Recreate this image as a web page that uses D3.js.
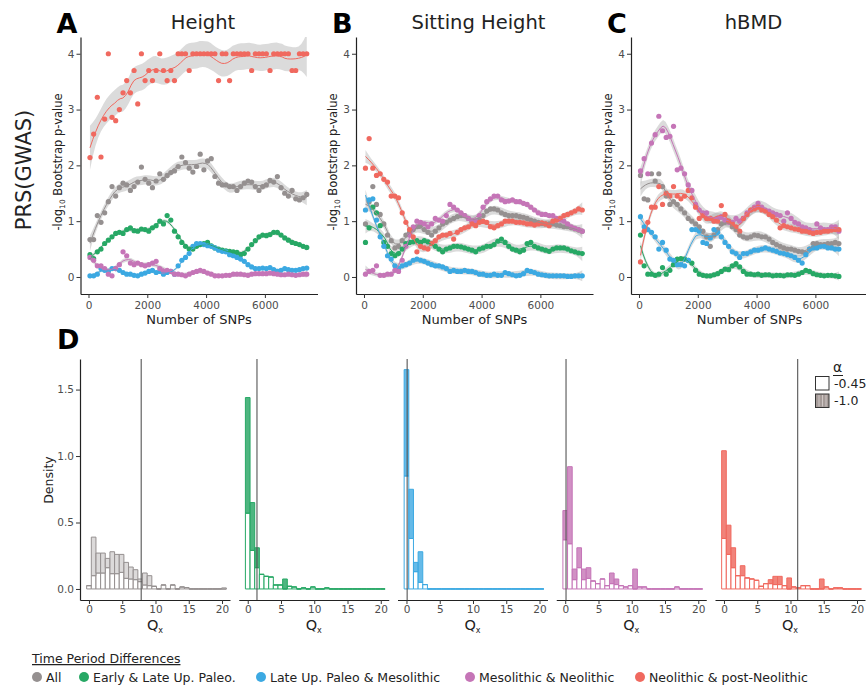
<!DOCTYPE html>
<html>
<head>
<meta charset="utf-8">
<script src="https://cdn.jsdelivr.net/npm/d3@7"></script>
<style>
  body { margin: 0; background: #fff; }
  svg { font-family: "DejaVu Sans", sans-serif; }
</style>
</head>
<body>
<svg width="866" height="690"></svg>
<script>
// ---- data ----
const groups = ["All", "Early & Late Up. Paleo.", "Late Up. Paleo & Mesolithic", "Mesolithic & Neolithic", "Neolithic & post-Neolithic"]
const colors = ["#959090", "#27a865", "#3ca9e2", "#c575b7", "#f0695f"]
const histFills = ["#d6d4d3", "#2fa86a", "#4aaee4", "#c97cba", "#ef6d63"]

const snps = [50, 175, 300, 425, 550, 675, 800, 925, 1050, 1175,
    1300, 1425, 1550, 1675, 1800, 1925, 2050, 2175, 2300, 2425,
    2550, 2675, 2800, 2925, 3050, 3175, 3300, 3425, 3550, 3675,
    3800, 3925, 4050, 4175, 4300, 4425, 4550, 4675, 4800, 4925,
    5050, 5175, 5300, 5425, 5550, 5675, 5800, 5925, 6050, 6175,
    6300, 6425, 6550, 6675, 6800, 6925, 7050, 7175, 7300, 7425]
const snpsBMD = snps.slice(0, 55)

// A - Height
const heightAll = [0.67, 0.67, 1.1, 0.98, 1.15, 1.35, 1.62, 1.45, 1.6, 1.68,
    1.65, 1.55, 1.62, 1.7, 1.97, 1.75, 1.68, 1.6, 1.72, 1.85,
    1.75, 1.82, 1.87, 1.9, 1.98, 2.15, 2.05, 1.95, 1.88, 1.98,
    2.2, 1.92, 2.08, 2.12, 1.8, 1.68, 1.65, 1.65, 1.62, 1.62,
    1.55, 1.62, 1.68, 1.72, 1.7, 1.62, 1.55, 1.62, 1.65, 1.73,
    1.7, 1.8, 1.6, 1.5, 1.45, 1.55, 1.4, 1.38, 1.42, 1.48]
const heightEarly = [0.4, 0.33, 0.45, 0.5, 0.6, 0.66, 0.72, 0.78, 0.8, 0.78,
    0.85, 0.88, 0.83, 0.82, 0.86, 0.85, 0.82, 0.88, 0.92, 1.0,
    0.95, 1.1, 1.02, 0.82, 0.72, 0.62, 0.55, 0.5, 0.5, 0.55,
    0.58, 0.6, 0.62, 0.56, 0.52, 0.5, 0.48, 0.47, 0.46, 0.45,
    0.44, 0.4, 0.42, 0.5, 0.58, 0.65, 0.72, 0.75, 0.74, 0.76,
    0.8, 0.8, 0.75, 0.7, 0.66, 0.62, 0.6, 0.58, 0.55, 0.53]
const heightLate = [0.02, 0.02, 0.05, 0.15, 0.12, 0.1, 0.15, 0.15, 0.12, 0.08,
    0.05, 0.05, 0.03, 0.02, 0.05, 0.07, 0.1, 0.12, 0.08, 0.1,
    0.05, 0.08, 0.1, 0.05, 0.2, 0.3, 0.35, 0.42, 0.55, 0.6,
    0.6, 0.58, 0.56, 0.55, 0.52, 0.48, 0.46, 0.45, 0.4, 0.38,
    0.35, 0.32, 0.28, 0.22, 0.18, 0.15, 0.15, 0.16, 0.15, 0.17,
    0.13, 0.1, 0.12, 0.15, 0.13, 0.12, 0.12, 0.13, 0.15, 0.16]
const heightMeso = [0.35, 0.3, 0.2, 0.2, 0.15, 0.05, 0.02, 0.15, 0.22, 0.45,
    0.38, 0.25, 0.22, 0.25, 0.22, 0.2, 0.22, 0.25, 0.28, 0.15,
    0.1, 0.12, 0.1, 0.05, 0.05, 0.04, 0.02, 0.05, 0.08, 0.1,
    0.12, 0.1, 0.07, 0.05, 0.02, 0.02, 0.02, 0.03, 0.03, 0.05,
    0.05, 0.05, 0.04, 0.03, 0.05, 0.06, 0.06, 0.06, 0.06, 0.07,
    0.06, 0.05, 0.04, 0.04, 0.05, 0.04, 0.03, 0.04, 0.05, 0.05]
const heightNeo = [2.14, 2.56, 3.22, 2.15, 2.83, 4, 2.86, 2.8, 3, 3.3,
    3.52, 3.3, 3.7, 3.1, 4, 3.52, 3.7, 3.52, 3.7, 4,
    3.7, 3.52, 3.7, 3.52, 4, 4, 4, 3.7, 4, 4,
    4, 4, 4, 4, 4, 3.52, 4, 4, 3.52, 4,
    4, 4, 4, 4, 3.7, 4, 4, 4, 4, 3.7,
    4, 4, 4, 4, 4, 3.7, 3.7, 4, 4, 4]

// B - Sitting Height
const sitAll = [0.95, 1.35, 1.62, 1.3, 1.12, 0.95, 0.75, 0.65, 0.52, 0.55,
    0.65, 0.75, 0.8, 0.85, 0.9, 0.92, 0.85, 0.8, 0.75, 0.82,
    0.88, 0.95, 0.98, 1.02, 1.05, 1.08, 1.1, 1.1, 1.05, 1.0,
    1.0, 1.03, 1.1, 1.18, 1.22, 1.22, 1.2, 1.15, 1.12, 1.1,
    1.1, 1.1, 1.08, 1.07, 1.05, 1.02, 1.0, 0.98, 0.96, 0.95,
    0.95, 0.95, 0.93, 0.92, 0.9, 0.9, 0.88, 0.86, 0.84, 0.82]
const sitEarly = [0.62, 0.88, 1.25, 1.15, 0.92, 0.62, 0.55, 0.42, 0.38, 0.42,
    0.5, 0.6, 0.62, 0.63, 0.65, 0.62, 0.65, 0.63, 0.6, 0.55,
    0.5, 0.45, 0.5, 0.52, 0.55, 0.55, 0.54, 0.52, 0.5, 0.48,
    0.45, 0.5, 0.52, 0.55, 0.55, 0.58, 0.64, 0.68, 0.62, 0.55,
    0.5, 0.48, 0.45, 0.48, 0.6, 0.62, 0.55, 0.52, 0.5, 0.48,
    0.46, 0.5, 0.52, 0.52, 0.52, 0.5, 0.47, 0.45, 0.43, 0.42]
const sitLate = [1.2, 1.38, 1.4, 1.02, 0.72, 0.55, 0.38, 0.32, 0.2, 0.15,
    0.2, 0.22, 0.25, 0.3, 0.32, 0.3, 0.28, 0.25, 0.22, 0.2,
    0.2, 0.18, 0.15, 0.1, 0.12, 0.1, 0.1, 0.12, 0.1, 0.1,
    0.08, 0.05, 0.05, 0.03, 0.03, 0.05, 0.03, 0.03, 0.08, 0.06,
    0.04, 0.02, 0.03, 0.06, 0.12, 0.1, 0.08, 0.05, 0.04, 0.03,
    0.02, 0.02, 0.02, 0.02, 0.02, 0.01, 0.01, 0.02, 0.02, 0.02]
const sitMeso = [0.05, 0.1, 0.12, 0.2, 0.03, 0.03, 0.05, 0.05, 0.12, 0.1,
    0.3, 0.55, 0.75, 0.9, 1.0, 0.98, 0.95, 0.9, 0.95, 1.05,
    1.02, 1.0, 1.1, 1.3, 1.25, 1.2, 1.15, 1.1, 1.05, 1.0,
    1.0, 1.1, 1.25, 1.35, 1.4, 1.45, 1.45, 1.38, 1.35, 1.36,
    1.38, 1.35, 1.35, 1.32, 1.3, 1.25, 1.2, 1.15, 1.12, 1.12,
    1.1, 1.1, 1.05, 1.02, 1.0, 0.95, 0.9, 0.87, 0.85, 0.82]
const sitNeo = [1.95, 2.48, 1.95, 1.82, 1.85, 1.75, 1.7, 1.45, 1.45, 1.42,
    1.15, 0.98, 0.85, 0.72, 0.45, 0.55, 0.52, 0.5, 0.6, 0.65,
    0.72, 0.75, 0.75, 0.78, 0.68, 0.8, 0.85, 0.88, 0.9, 0.95,
    0.92, 0.98, 1.0, 0.98, 0.9, 0.88, 0.92, 0.95, 1.0, 1.0,
    1.0, 0.98, 0.98, 0.97, 0.95, 0.95, 0.93, 0.95, 0.97, 0.95,
    0.92, 1.0, 1.02, 1.05, 1.1, 1.12, 1.15, 1.18, 1.22, 1.2]

// C - hBMD
const bmdAll = [1.82, 1.4, 1.38, 1.85, 1.72, 1.85, 1.62, 1.45, 1.3, 1.35,
    1.3, 1.22, 1.15, 1.05, 1.0, 0.95, 0.9, 0.82, 0.72, 0.55,
    0.75, 0.85, 0.95, 0.98, 1.0, 0.9, 0.85, 0.75, 0.72, 0.7,
    0.72, 0.75, 0.74, 0.72, 0.72, 0.68, 0.62, 0.58, 0.55, 0.52,
    0.5, 0.5, 0.48, 0.46, 0.45, 0.43, 0.5, 0.6, 0.6, 0.58,
    0.58, 0.6, 0.6, 0.62, 0.6]
const bmdEarly = [0.75, 0.2, 0.05, 0.05, 0.03, 0.05, 0.17, 0.05, 0.12, 0.22,
    0.32, 0.33, 0.32, 0.3, 0.25, 0.12, 0.05, 0.03, 0.02, 0.02,
    0.04, 0.06, 0.1, 0.14, 0.13, 0.2, 0.24, 0.18, 0.1, 0.05,
    0.05, 0.04, 0.05, 0.03, 0.04, 0.04, 0.02, 0.03, 0.03, 0.02,
    0.04, 0.04, 0.03, 0.05, 0.08, 0.12, 0.1, 0.06, 0.04, 0.03,
    0.02, 0.03, 0.03, 0.02, 0.01]
const bmdLate = [1.08, 0.9, 0.85, 0.8, 0.72, 0.5, 0.62, 0.48, 0.32, 0.3,
    0.22, 0.22, 0.2, 0.3, 0.85, 0.85, 0.82, 0.62, 0.6, 0.7,
    0.85, 0.8, 0.72, 0.62, 0.55, 0.45, 0.42, 0.35, 0.42, 0.42,
    0.45, 0.48, 0.48, 0.5, 0.52, 0.5, 0.48, 0.46, 0.43, 0.42,
    0.4, 0.38, 0.35, 0.3, 0.25, 0.4, 0.5, 0.52, 0.52, 0.55,
    0.55, 0.52, 0.52, 0.5, 0.5]
const bmdMeso = [1.9, 2.12, 1.85, 2.4, 2.55, 2.88, 2.62, 2.5, 2.52, 2.7,
    1.92, 1.95, 1.85, 1.65, 1.55, 1.3, 1.2, 1.15, 1.15, 1.05,
    1.02, 1.05, 1.08, 1.02, 0.98, 0.98, 1.05, 1.0, 1.05, 1.15,
    1.2, 1.25, 1.32, 1.25, 1.2, 1.18, 1.15, 1.12, 1.1, 1.0,
    1.15, 1.05, 0.98, 0.95, 0.9, 0.88, 0.85, 0.8, 0.95, 0.88,
    0.85, 0.85, 0.9, 0.9, 0.82]
const bmdNeo = [0.27, 0.82, 0.98, 1.25, 1.25, 1.62, 1.3, 1.5, 1.45, 1.62,
    1.45, 1.4, 1.45, 1.55, 1.42, 1.25, 1.05, 1.1, 1.05, 1.05,
    1.0, 1.0, 1.28, 1.12, 1.0, 0.95, 0.9, 0.82, 1.05, 1.12,
    1.2, 1.22, 1.25, 1.2, 1.18, 1.12, 1.08, 1.02, 0.88, 0.92,
    0.9, 0.88, 0.86, 0.85, 0.82, 0.82, 0.8, 0.78, 0.8, 0.8,
    0.82, 0.82, 0.84, 0.85, 0.85]

// D - Qx density histograms (30 bins, width 0.7, first bin starts at -0.35)
const binStart = -0.35
const binWidth = 0.7
const qxLow = [ // alpha = -0.45
    [0.025, 0.1, 0.12, 0.12, 0.16, 0.115, 0.115, 0.125, 0.08, 0.075, 0.07, 0.055, 0.03, 0.025, 0.02, 0, 0.03, 0, 0.03, 0, 0.015, 0.01, 0, 0, 0, 0, 0, 0, 0, 0],
    [0.57, 0.29, 0.16, 0.11, 0.095, 0.09, 0.03, 0.03, 0, 0.02, 0.015, 0, 0.008, 0, 0.015, 0, 0, 0.008, 0, 0, 0, 0, 0, 0, 0, 0, 0, 0, 0, 0],
    [0.85, 0.38, 0.13, 0.05, 0.033, 0, 0, 0, 0, 0, 0, 0, 0, 0, 0, 0, 0, 0, 0, 0, 0, 0, 0, 0, 0, 0, 0, 0, 0, 0],
    [0.37, 0.34, 0.07, 0.16, 0.07, 0.08, 0.06, 0.04, 0.075, 0.025, 0.04, 0.033, 0.025, 0.015, 0.025, 0, 0.015, 0.015, 0, 0, 0, 0, 0, 0, 0.015, 0, 0, 0, 0, 0],
    [0.38, 0.26, 0.16, 0.1, 0.1, 0.083, 0.075, 0.065, 0.02, 0.04, 0.04, 0.033, 0.033, 0.025, 0, 0.015, 0.008, 0.025, 0.025, 0, 0, 0, 0.015, 0, 0.008, 0.008, 0, 0, 0, 0]
]
const qxHigh = [ // alpha = -1.0
    [0, 0.29, 0.15, 0.15, 0.07, 0.165, 0.145, 0.135, 0.12, 0.09, 0.075, 0.02, 0.09, 0.075, 0, 0, 0, 0, 0, 0, 0, 0, 0, 0, 0, 0, 0, 0, 0, 0.008],
    [0.87, 0.36, 0.15, 0, 0, 0, 0, 0, 0.075, 0, 0, 0, 0, 0, 0, 0, 0, 0, 0, 0, 0, 0, 0, 0, 0, 0, 0, 0, 0, 0],
    [0.8, 0.37, 0.07, 0.23, 0, 0, 0, 0, 0, 0, 0, 0, 0, 0, 0, 0, 0, 0, 0, 0, 0, 0, 0, 0, 0, 0, 0, 0, 0, 0],
    [0.22, 0.58, 0.08, 0.15, 0.08, 0.08, 0, 0, 0, 0, 0.08, 0.042, 0, 0, 0, 0.15, 0, 0, 0, 0, 0, 0, 0, 0, 0, 0, 0, 0, 0, 0],
    [0.66, 0.22, 0.15, 0, 0.075, 0, 0, 0, 0, 0, 0.03, 0.062, 0.062, 0, 0.083, 0, 0, 0, 0, 0, 0, 0.075, 0, 0, 0, 0, 0, 0, 0, 0]
]
const qxObserved = [7.85, 1.39, 0.1, 0.12, 11.08]
const alphaLabels = ["-0.45", "-1.0"]

const topPanels = [
    { letter: "A", title: "Height", snps: snps, series: [heightAll, heightEarly, heightLate, heightMeso, heightNeo] },
    { letter: "B", title: "Sitting Height", snps: snps, series: [sitAll, sitEarly, sitLate, sitMeso, sitNeo] },
    { letter: "C", title: "hBMD", snps: snpsBMD, series: [bmdAll, bmdEarly, bmdLate, bmdMeso, bmdNeo] }
]

// ---- loess (local quadratic, tricube) with standard-error band ----
function row0inv3(m) {
    const [a, b, c] = m[0], [d, e, f] = m[1], [g, h, k] = m[2]
    const A = e * k - f * h, B = -(d * k - f * g), C = d * h - e * g
    const det = a * A + b * B + c * C
    return [A / det, -(b * k - c * h) / det, (b * f - c * e) / det]
}

function loessFit(xs, ys, span, nOut) {
    const n = xs.length
    const q = Math.max(5, Math.floor(span * n))
    function weightsAt(x0) {
        const d = xs.map(x => Math.abs(x - x0))
        const h = d.slice().sort((a, b) => a - b)[q - 1] * 1.001
        const w = d.map(v => v < h ? Math.pow(1 - Math.pow(v / h, 3), 3) : 0)
        const X = xs.map(x => { const u = (x - x0) / h; return [1, u, u * u] })
        const M = [[0, 0, 0], [0, 0, 0], [0, 0, 0]]
        X.forEach((r, j) => {
            for (let a = 0; a < 3; a++) for (let b = 0; b < 3; b++) M[a][b] += w[j] * r[a] * r[b]
        })
        const r0 = row0inv3(M)
        return X.map((r, j) => w[j] * (r0[0] * r[0] + r0[1] * r[1] + r0[2] * r[2]))
    }
    let rss = 0, trace = 0
    xs.forEach((x, i) => {
        const l = weightsAt(x)
        const f = d3.sum(l, (v, j) => v * ys[j])
        rss += (ys[i] - f) ** 2
        trace += l[i]
    })
    const sigma = Math.sqrt(rss / (n - trace))
    const x0 = xs[0], x1 = xs[n - 1]
    return d3.range(nOut).map(i => {
        const xv = x0 + (x1 - x0) * i / (nOut - 1)
        const l = weightsAt(xv)
        const f = d3.sum(l, (v, j) => v * ys[j])
        const se = sigma * Math.sqrt(d3.sum(l, v => v * v))
        return { x: xv, y: f, lo: f - 1.97 * se, hi: f + 1.97 * se }
    })
}

const svg = d3.select("svg")
const inkText = "#222"
const tickText = "#4d4d4d"

function styleAxis(g) {
    g.select(".domain").attr("stroke", "#222").attr("stroke-width", 1.2)
    g.selectAll(".tick line").attr("stroke", "#333")
    g.selectAll(".tick text").attr("fill", tickText).attr("font-size", 10.5).attr("font-family", "DejaVu Sans, sans-serif")
}

// ---- top panels A-C ----
const topLeft = [80.5, 356, 631]
const topW = 237

topPanels.forEach((p, pi) => {
    const L = topLeft[pi]
    const x = d3.scaleLinear().domain([-272, 7790]).range([L, L + topW])
    const y = d3.scaleLinear().domain([-0.305, 4.3]).range([294, 37])
    const g = svg.append("g")

    g.append("clipPath").attr("id", "clip" + pi)
        .append("rect").attr("x", L).attr("y", 37).attr("width", topW).attr("height", 257)
    const plot = g.append("g").attr("clip-path", `url(#clip${pi})`)

    const fits = p.series.map(vals => loessFit(p.snps, vals, 0.25, 80))

    const band = d3.area().x(d => x(d.x)).y0(d => y(d.lo)).y1(d => y(d.hi))
    plot.selectAll("path.band").data(fits).join("path")
        .attr("class", "band")
        .attr("d", band)
        .attr("fill", "#999")
        .attr("fill-opacity", 0.35)

    p.series.forEach((vals, si) => {
        plot.append("g").selectAll("circle").data(vals).join("circle")
            .attr("cx", (d, i) => x(p.snps[i]))
            .attr("cy", d => y(d))
            .attr("r", 2.6)
            .attr("fill", colors[si])
    })

    const line = d3.line().x(d => x(d.x)).y(d => y(d.y))
    plot.selectAll("path.fit").data(fits).join("path")
        .attr("class", "fit")
        .attr("d", line)
        .attr("fill", "none")
        .attr("stroke", (d, i) => colors[i])
        .attr("stroke-width", 1)

    g.append("g").attr("transform", "translate(0,294)")
        .call(d3.axisBottom(x).tickValues([0, 2000, 4000, 6000]).tickFormat(d3.format("d")).tickSize(4).tickSizeOuter(0).tickPadding(3.5))
        .call(styleAxis)
    g.append("g").attr("transform", `translate(${L},0)`)
        .call(d3.axisLeft(y).tickValues([0, 1, 2, 3, 4]).tickFormat(d3.format("d")).tickSize(4).tickSizeOuter(0).tickPadding(2))
        .call(styleAxis)

    g.append("text")
        .attr("x", L + topW / 2).attr("y", 324)
        .attr("text-anchor", "middle").attr("font-size", 13).attr("fill", inkText)
        .text("Number of SNPs")

    const yl = g.append("text")
        .attr("transform", `translate(${L - 19},162) rotate(-90)`)
        .attr("text-anchor", "middle").attr("font-size", 11.5).attr("fill", inkText)
    yl.append("tspan").text("-log")
    yl.append("tspan").attr("font-size", 7.5).attr("dy", 3).text("10")
    yl.append("tspan").attr("dy", -3).text(" Bootstrap p-value")

    g.append("text")
        .attr("x", L + topW / 2 + 4).attr("y", 29)
        .attr("text-anchor", "middle").attr("font-size", 19.5).attr("fill", inkText)
        .text(p.title)
    g.append("text")
        .attr("x", L - 24).attr("y", 33)
        .attr("font-size", 27).attr("font-weight", "bold").attr("fill", "#000")
        .text(p.letter)
})

svg.append("text")
    .attr("transform", "translate(31,170) rotate(-90)")
    .attr("text-anchor", "middle").attr("font-size", 21).attr("fill", inkText)
    .text("PRS(GWAS)")

// ---- panel D histograms ----
const histW = 150
const histStep = 158.75
const yD = d3.scaleLinear().domain([-0.083, 1.73]).range([600, 359])

svg.append("text").attr("x", 57).attr("y", 349)
    .attr("font-size", 27).attr("font-weight", "bold").attr("fill", "#000").text("D")

groups.forEach((grp, gi) => {
    const left = 80 + histStep * gi
    const x = d3.scaleLinear().domain([-1.35, 21.2]).range([left, left + histW])
    const g = svg.append("g")

    const rows = qxLow[gi].map((v, k) => ({ x0: binStart + k * binWidth, low: v, high: qxHigh[gi][k] }))
    const stacked = d3.stack().keys(["low", "high"])(rows)

    const barPath = d => {
        const x0 = x(d.data.x0), x1 = x(d.data.x0 + binWidth)
        const y0 = yD(d[0]), y1 = yD(d[1])
        return `M${x0},${y0}V${y1}H${x1}V${y0}Z`
    }
    const layerFill = ["#fff", histFills[gi]]
    const layerOpacity = [0.9, 0.85]
    stacked.forEach((layer, li) => {
        g.append("g").selectAll("path").data(layer).join("path")
            .attr("d", barPath)
            .attr("fill", layerFill[li])
            .attr("fill-opacity", layerOpacity[li])
            .attr("stroke", colors[gi])
            .attr("stroke-width", 1)
    })

    g.append("line")
        .attr("x1", x(qxObserved[gi])).attr("x2", x(qxObserved[gi]))
        .attr("y1", 359).attr("y2", 600)
        .attr("stroke", "#555").attr("stroke-width", 1.1)

    g.append("g").attr("transform", "translate(0,600)")
        .call(d3.axisBottom(x).tickValues([0, 5, 10, 15, 20]).tickSize(4).tickSizeOuter(0).tickPadding(2))
        .call(styleAxis)

    if (gi === 0) {
        g.append("g").attr("transform", `translate(${left},0)`)
            .call(d3.axisLeft(yD).tickValues([0, 0.5, 1, 1.5]).tickFormat(d3.format(".1f")).tickSize(4).tickSizeOuter(0).tickPadding(2))
            .call(styleAxis)
        g.append("text")
            .attr("transform", "translate(53,480) rotate(-90)")
            .attr("text-anchor", "middle").attr("font-size", 12.5).attr("fill", inkText)
            .text("Density")
    }

    const ql = g.append("text")
        .attr("x", left + histW / 2).attr("y", 630)
        .attr("text-anchor", "middle").attr("font-size", 14.5).attr("fill", inkText)
    ql.append("tspan").text("Q")
    ql.append("tspan").attr("font-size", 8).attr("dy", 3).text("x")
})

// alpha legend
const al = svg.append("g")
al.append("text").attr("x", 833).attr("y", 372).attr("font-size", 14).attr("fill", inkText).text("α")
al.append("line").attr("x1", 833).attr("x2", 843).attr("y1", 375.5).attr("y2", 375.5).attr("stroke", inkText).attr("stroke-width", 1)
alphaLabels.forEach((lab, i) => {
    const y0 = 376 + i * 17.5
    al.append("rect").attr("x", 815.5).attr("y", y0 + 0.5).attr("width", 13.5).attr("height", 13.5)
        .attr("fill", i === 0 ? "#fff" : "#a59b98").attr("stroke", "#333").attr("stroke-width", 1)
    if (i === 1) {
        [819, 822.5, 826].forEach(sx => al.append("line")
            .attr("x1", sx).attr("x2", sx).attr("y1", y0 + 1.5).attr("y2", y0 + 13)
            .attr("stroke", "#d9d2d0").attr("stroke-width", 0.8))
    }
    al.append("text").attr("x", 834).attr("y", y0 + 11.5).attr("font-size", 12.5).attr("fill", inkText).text(lab)
})

// ---- bottom legend ----
const lg = svg.append("g")
lg.append("text").attr("x", 32).attr("y", 663).attr("font-size", 12.5).attr("fill", inkText)
    .attr("text-decoration", "underline").text("Time Period Differences")
const legendX = [37, 84, 261, 470, 640]
groups.forEach((grp, i) => {
    lg.append("circle").attr("cx", legendX[i]).attr("cy", 677).attr("r", 5).attr("fill", colors[i])
    lg.append("text").attr("x", legendX[i] + 9).attr("y", 681.5).attr("font-size", 12.5).attr("fill", inkText).text(grp)
})
</script>
</body>
</html>
